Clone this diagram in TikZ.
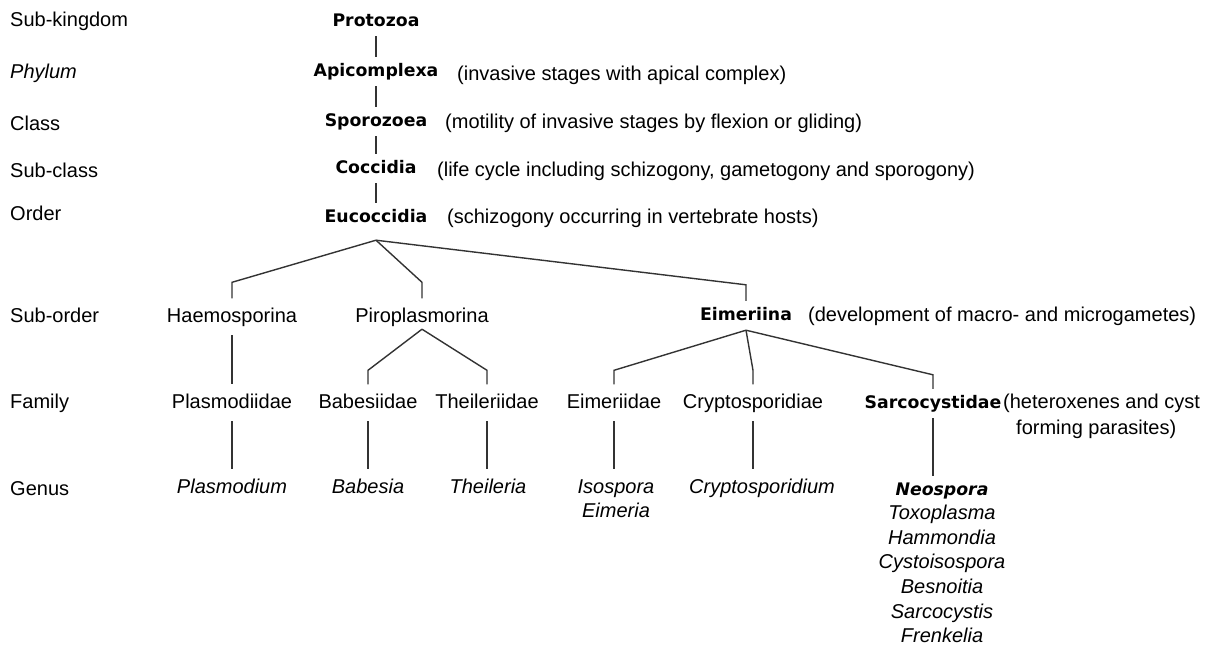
\documentclass[tikz,border=0pt]{standalone}
\usepackage{fontspec}
\setmainfont{Liberation Sans}
\newfontfamily\verdfam{DejaVu Sans}
\begin{document}
\begin{tikzpicture}[
	x=1pt,y=-1pt,
	rank/.style={anchor=base west,inner sep=0pt,font=\fontsize{20}{24}\selectfont},
	tax/.style={anchor=base,inner xsep=2pt,inner ysep=9pt,text height=14.5pt,text depth=4pt,font=\fontsize{20}{24}\selectfont},
	taxb/.style={anchor=base,inner xsep=2pt,inner ysep=6pt,text height=13pt,text depth=4pt,font=\verdfam\bfseries\fontsize{17.3}{21}\selectfont},
	genus/.style={tax,font=\itshape\fontsize{20}{24}\selectfont},
	note/.style={anchor=base west,inner sep=0pt,font=\fontsize{20}{24}\selectfont},
	link/.style={draw=black!80,line width=1.4pt}
	]
	\useasboundingbox (0,0) rectangle (1225,645);
	% rank labels
	\foreach \lab/\yy/\nm in {Sub-kingdom/26/kgd,{\itshape Phylum}/78/phy,Class/130/cls,Sub-class/177/scl,Order/220/ord,Sub-order/322/sord,Family/408/fam,Genus/495/gen}
		\node[rank] (r\nm) at (10,\yy) {\lab};
	% main column
	\node[taxb] (proto) at (376,26) {Protozoa};
	\node[taxb] (apic) at (376,76) {Apicomplexa};
	\node[taxb] (sporo) at (376,126) {Sporozoea};
	\node[taxb] (cocc) at (376,173) {Coccidia};
	\node[taxb] (euco) at (376,222) {Eucoccidia};
	\draw[link] (proto) -- (apic) -- (sporo) -- (cocc) -- (euco);
	\node[note] (apicnote) at (457,80) {(invasive stages with apical complex)};
	\node[note] (sporonote) at (445,128) {(motility of invasive stages by flexion or gliding)};
	\node[note] (coccnote) at (437,176) {(life cycle including schizogony, gametogony and sporogony)};
	\node[note] (euconote) at (447,223) {(schizogony occurring in vertebrate hosts)};
	% sub-orders
	\node[tax] (haem) at (232,322) {Haemosporina};
	\node[tax] (piro) at (422,322) {Piroplasmorina};
	\node[taxb] (eime) at (746,320) {Eimeriina};
	\node[note] (eimenote) at (808,321) {(development of macro- and microgametes)};
	\coordinate (ordhub) at ([yshift=-8pt]euco.south);
	\foreach \c in {haem,piro,eime}
		\draw[link] (ordhub) -- ([yshift=16pt]\c.north) -- (\c.north);
	% families
	\node[tax] (plasm) at (232,408) {Plasmodiidae};
	\node[tax] (babe) at (368,408) {Babesiidae};
	\node[tax] (theil) at (487,408) {Theileriidae};
	\node[tax] (eimd) at (614,408) {Eimeriidae};
	\node[tax] (crypd) at (753,408) {Cryptosporidiae};
	\node[taxb] (sarc) at (933,408) {Sarcocystidae};
	\node[note] (sarcnote) at (1003,408) {(heteroxenes and cyst};
	\node[note] (sarcnote2) at (1016,434) {forming parasites)};
	\draw[link] (haem) -- (plasm);
	\coordinate (pirohub) at ([yshift=6pt]piro.south);
	\foreach \c in {babe,theil}
		\draw[link] (pirohub) -- ([yshift=14pt]\c.north) -- (\c.north);
	\foreach \c in {eimd,crypd,sarc}
		\draw[link] (eime.south) -- ([yshift=14pt]\c.north) -- (\c.north);
	% genera
	\node[genus] (plasmg) at (232,493) {Plasmodium};
	\node[genus] (babeg) at (368,493) {Babesia};
	\node[genus] (theilg) at (488,493) {Theileria};
	\node[genus] (isos) at (616,493) {Isospora};
	\node[genus] (eimg) at (616,517) {Eimeria};
	\node[genus] (crypg) at (762,493) {Cryptosporidium};
	\node[taxb,font=\verdfam\bfseries\itshape\fontsize{17.3}{21}\selectfont] (neo) at (942,495) {Neospora};
	\foreach \g/\k in {Toxoplasma/1,Hammondia/2,Cystoisospora/3,Besnoitia/4,Sarcocystis/5,Frenkelia/6}
		\node[genus] (sg\k) at (942,{495+24.6*\k}) {\g};
	\foreach \f/\g in {plasm/plasmg,babe/babeg,theil/theilg,eimd/isos,crypd/crypg,sarc/neo}
		\draw[link] (\f.south) -- (\f.south |- \g.north);
\end{tikzpicture}
\end{document}
